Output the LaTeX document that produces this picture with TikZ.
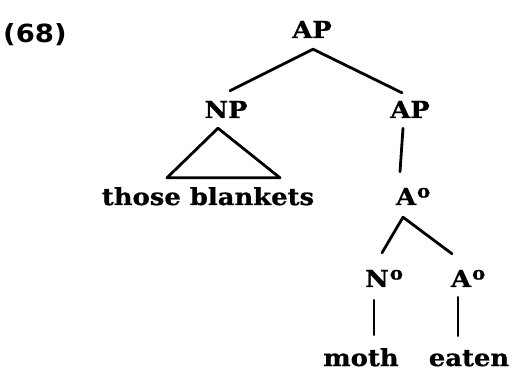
\documentclass[tikz,border=0pt]{standalone}
\usepackage{fontspec}
\newfontfamily\treefont{DejaVu Serif}[FakeStretch=1.1,FakeBold=0.8]
\newfontfamily\numfont{DejaVu Sans}[FakeStretch=1.1]
\newcommand{\supo}{\rlap{\kern1pt\raisebox{7.5pt}{\fontsize{18}{18}\selectfont o}}}
\begin{document}
\begin{tikzpicture}[x=1pt,y=-1pt,
  lab/.style={font=\treefont\bfseries\fontsize{23.5}{25}\selectfont, inner sep=0pt,
    text height=16pt, text depth=0pt, anchor=base},
  edge/.style={line width=2.8pt, line cap=round, line join=round}]
\useasboundingbox (0,0) rectangle (519,371);
\node[anchor=base west, inner sep=0pt, font=\numfont\bfseries\fontsize{25}{27}\selectfont] (ex) at (3,43) {(68)};
\node[lab] (root) at (312,38) {AP};
\node[lab] (np) at (226,118) {NP};
\node[lab] (ap2) at (410,118) {AP};
\node[lab] (tb) at (208,205) {those blankets};
\node[lab] (a1) at (406,205) {A\supo};
\node[lab] (n) at (377,287) {N\supo};
\node[lab] (a2) at (461,287) {A\supo};
\node[lab] (moth) at (361,366) {moth};
\node[lab] (eaten) at (469,366) {eaten};
% edges
\draw[edge] ([xshift=4pt,yshift=11pt]np.north) -- ([xshift=1pt,yshift=-11pt]root.south)
  -- ([xshift=-8pt,yshift=9pt]ap2.north);
\draw[edge] ([xshift=-41pt,yshift=11pt]tb.north) -- ([xshift=-8pt,yshift=-10pt]np.south)
  -- ([xshift=72pt,yshift=11pt]tb.north) -- cycle;
\draw[edge] ([xshift=-7pt,yshift=-10pt]ap2.south) -- ([xshift=-6pt,yshift=17pt]a1.north);
\draw[edge] ([xshift=5pt,yshift=18pt]n.north) -- ([xshift=-3pt,yshift=-12pt]a1.south)
  -- ([xshift=-9pt,yshift=17pt]a2.north);
\draw[edge] ([xshift=-3pt,yshift=-13pt]n.south) -- ([xshift=13pt,yshift=15pt]moth.north);
\draw[edge] ([xshift=-3pt,yshift=-10pt]a2.south) -- ([xshift=-11pt,yshift=14pt]eaten.north);
\end{tikzpicture}
\end{document}
